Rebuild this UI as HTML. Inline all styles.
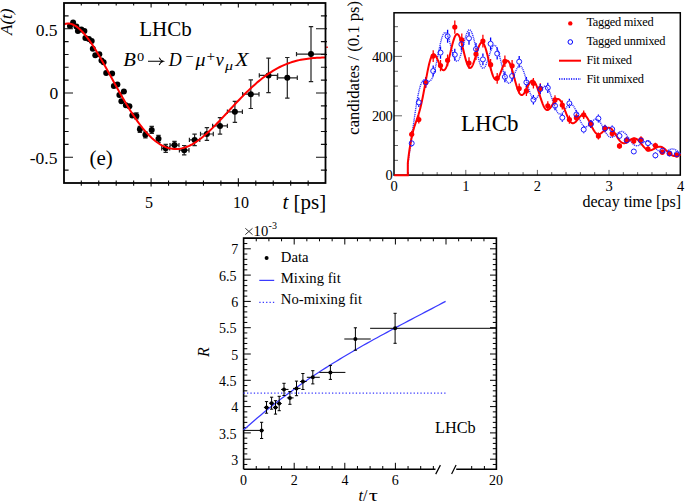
<!DOCTYPE html>
<html><head><meta charset="utf-8"><style>
html,body{margin:0;padding:0;background:#fff;}
svg{display:block;}
text{font-family:"Liberation Serif",serif;}
</style></head><body>
<svg width="685" height="503" viewBox="0 0 685 503">
<rect width="685" height="503" fill="#fff"/>
<g id="c1">
<path d="M136.4,112.9V118.9M134.20000000000002,112.9h4.4M134.20000000000002,118.9h4.4" stroke="#222" stroke-width="1.2" fill="none"/>
<path d="M139.9,126.30000000000001V132.3M137.70000000000002,126.30000000000001h4.4M137.70000000000002,132.3h4.4" stroke="#222" stroke-width="1.2" fill="none"/>
<path d="M145.4,131.8V137.8M143.20000000000002,131.8h4.4M143.20000000000002,137.8h4.4" stroke="#222" stroke-width="1.2" fill="none"/>
<path d="M151.7,126.4V133.4M149.5,126.4h4.4M149.5,133.4h4.4" stroke="#222" stroke-width="1.2" fill="none"/>
<path d="M158.5,135.3V142.3M156.3,135.3h4.4M156.3,142.3h4.4" stroke="#222" stroke-width="1.2" fill="none"/>
<path d="M165.7,144.3V152.3M163.5,144.3h4.4M163.5,152.3h4.4" stroke="#222" stroke-width="1.2" fill="none"/>
<path d="M161.7,148.3H169.7M161.7,146.10000000000002v4.4M169.7,146.10000000000002v4.4" stroke="#222" stroke-width="1.2" fill="none"/>
<path d="M174.5,141.29999999999998V148.9M172.3,141.29999999999998h4.4M172.3,148.9h4.4" stroke="#222" stroke-width="1.2" fill="none"/>
<path d="M170.0,145.1H179.0M170.0,142.9v4.4M179.0,142.9v4.4" stroke="#222" stroke-width="1.2" fill="none"/>
<path d="M184.2,145.5V154.89999999999998M182.0,145.5h4.4M182.0,154.89999999999998h4.4" stroke="#222" stroke-width="1.2" fill="none"/>
<path d="M179.39999999999998,150.2H189.0M179.39999999999998,148.0v4.4M189.0,148.0v4.4" stroke="#222" stroke-width="1.2" fill="none"/>
<path d="M194.6,134.20000000000002V145.6M192.4,134.20000000000002h4.4M192.4,145.6h4.4" stroke="#222" stroke-width="1.2" fill="none"/>
<path d="M189.4,139.9H199.79999999999998M189.4,137.70000000000002v4.4M199.79999999999998,137.70000000000002v4.4" stroke="#222" stroke-width="1.2" fill="none"/>
<path d="M206.9,127.6V140.4M204.70000000000002,127.6h4.4M204.70000000000002,140.4h4.4" stroke="#222" stroke-width="1.2" fill="none"/>
<path d="M200.5,134H213.3M200.5,131.8v4.4M213.3,131.8v4.4" stroke="#222" stroke-width="1.2" fill="none"/>
<path d="M220,117.60000000000001V134.20000000000002M217.8,117.60000000000001h4.4M217.8,134.20000000000002h4.4" stroke="#222" stroke-width="1.2" fill="none"/>
<path d="M212.6,125.9H227.4M212.6,123.7v4.4M227.4,123.7v4.4" stroke="#222" stroke-width="1.2" fill="none"/>
<path d="M234.9,101.3V122.3M232.70000000000002,101.3h4.4M232.70000000000002,122.3h4.4" stroke="#222" stroke-width="1.2" fill="none"/>
<path d="M227.4,111.8H242.4M227.4,109.6v4.4M242.4,109.6v4.4" stroke="#222" stroke-width="1.2" fill="none"/>
<path d="M250.8,79.9V108.5M248.60000000000002,79.9h4.4M248.60000000000002,108.5h4.4" stroke="#222" stroke-width="1.2" fill="none"/>
<path d="M242.60000000000002,94.2H259.0M242.60000000000002,92.0v4.4M259.0,92.0v4.4" stroke="#222" stroke-width="1.2" fill="none"/>
<path d="M268.5,58.10000000000001V92.7M266.3,58.10000000000001h4.4M266.3,92.7h4.4" stroke="#222" stroke-width="1.2" fill="none"/>
<path d="M259.3,75.4H277.7M259.3,73.2v4.4M277.7,73.2v4.4" stroke="#222" stroke-width="1.2" fill="none"/>
<path d="M287.3,57.5V98.1M285.1,57.5h4.4M285.1,98.1h4.4" stroke="#222" stroke-width="1.2" fill="none"/>
<path d="M277.3,77.8H297.3M277.3,75.6v4.4M297.3,75.6v4.4" stroke="#222" stroke-width="1.2" fill="none"/>
<path d="M311,26.6V81.6M308.8,26.6h4.4M308.8,81.6h4.4" stroke="#222" stroke-width="1.2" fill="none"/>
<path d="M296.5,54.1H325.5M296.5,51.9v4.4M325.5,51.9v4.4" stroke="#222" stroke-width="1.2" fill="none"/>
<circle cx="70" cy="25.9" r="3" fill="#000"/>
<circle cx="73.1" cy="22.5" r="3" fill="#000"/>
<circle cx="76.4" cy="26.4" r="3" fill="#000"/>
<circle cx="77.9" cy="30.9" r="3" fill="#000"/>
<circle cx="81.4" cy="29.4" r="3" fill="#000"/>
<circle cx="84.4" cy="30.9" r="3" fill="#000"/>
<circle cx="85.4" cy="37.9" r="3" fill="#000"/>
<circle cx="88.9" cy="38.9" r="3" fill="#000"/>
<circle cx="91.7" cy="41.1" r="3" fill="#000"/>
<circle cx="92.8" cy="48.8" r="3" fill="#000"/>
<circle cx="95.3" cy="55.3" r="3" fill="#000"/>
<circle cx="99.3" cy="54.3" r="3" fill="#000"/>
<circle cx="101.5" cy="60.5" r="3" fill="#000"/>
<circle cx="103.6" cy="62.3" r="3" fill="#000"/>
<circle cx="106.2" cy="73" r="3" fill="#000"/>
<circle cx="112.1" cy="73.5" r="3" fill="#000"/>
<circle cx="113.9" cy="85.9" r="3" fill="#000"/>
<circle cx="117.4" cy="84.4" r="3" fill="#000"/>
<circle cx="119.4" cy="94.9" r="3" fill="#000"/>
<circle cx="123.9" cy="91.4" r="3" fill="#000"/>
<circle cx="121.4" cy="101.3" r="3" fill="#000"/>
<circle cx="125.9" cy="105.3" r="3" fill="#000"/>
<circle cx="129.4" cy="106.3" r="3" fill="#000"/>
<circle cx="132.3" cy="115.5" r="3" fill="#000"/>
<circle cx="136.4" cy="115.9" r="3" fill="#000"/>
<circle cx="139.9" cy="129.3" r="3" fill="#000"/>
<circle cx="145.4" cy="134.8" r="3" fill="#000"/>
<circle cx="151.7" cy="129.9" r="3" fill="#000"/>
<circle cx="158.5" cy="138.8" r="3" fill="#000"/>
<circle cx="165.7" cy="148.3" r="3" fill="#000"/>
<circle cx="174.5" cy="145.1" r="3" fill="#000"/>
<circle cx="184.2" cy="150.2" r="3" fill="#000"/>
<circle cx="194.6" cy="139.9" r="3" fill="#000"/>
<circle cx="206.9" cy="134" r="3" fill="#000"/>
<circle cx="220" cy="125.9" r="3" fill="#000"/>
<circle cx="234.9" cy="111.8" r="3" fill="#000"/>
<circle cx="250.8" cy="94.2" r="3" fill="#000"/>
<circle cx="268.5" cy="75.4" r="3" fill="#000"/>
<circle cx="287.3" cy="77.8" r="3" fill="#000"/>
<circle cx="311" cy="54.1" r="3" fill="#000"/>
<path d="M64.00,24.27 L65.76,23.73 L67.51,23.49 L69.27,23.55 L71.02,23.88 L72.78,24.48 L74.53,25.32 L76.29,26.39 L78.04,27.69 L79.80,29.19 L81.55,30.88 L83.31,32.75 L85.06,34.79 L86.82,36.99 L88.57,39.32 L90.33,41.79 L92.08,44.38 L93.84,47.07 L95.59,49.86 L97.35,52.73 L99.10,55.68 L100.86,58.69 L102.61,61.76 L104.37,64.87 L106.12,68.02 L107.88,71.19 L109.63,74.38 L111.39,77.58 L113.14,80.78 L114.90,83.97 L116.65,87.15 L118.41,90.30 L120.16,93.43 L121.92,96.52 L123.67,99.56 L125.43,102.55 L127.18,105.49 L128.94,108.36 L130.69,111.17 L132.45,113.91 L134.20,116.57 L135.96,119.14 L137.71,121.63 L139.47,124.03 L141.22,126.33 L142.98,128.53 L144.73,130.64 L146.49,132.63 L148.24,134.52 L150.00,136.30 L151.75,137.97 L153.51,139.53 L155.26,140.96 L157.02,142.28 L158.77,143.49 L160.53,144.57 L162.28,145.54 L164.04,146.38 L165.79,147.10 L167.55,147.71 L169.30,148.20 L171.06,148.56 L172.81,148.82 L174.57,148.95 L176.32,148.97 L178.08,148.88 L179.83,148.67 L181.59,148.36 L183.34,147.94 L185.10,147.42 L186.85,146.79 L188.61,146.06 L190.36,145.23 L192.12,144.32 L193.87,143.31 L195.63,142.21 L197.38,141.03 L199.14,139.77 L200.89,138.44 L202.65,137.04 L204.40,135.56 L206.16,134.03 L207.91,132.44 L209.67,130.80 L211.42,129.11 L213.18,127.38 L214.93,125.61 L216.69,123.81 L218.44,121.98 L220.20,120.13 L221.95,118.27 L223.71,116.38 L225.46,114.49 L227.22,112.59 L228.97,110.69 L230.73,108.79 L232.48,106.90 L234.24,105.02 L235.99,103.14 L237.75,101.29 L239.50,99.45 L241.26,97.63 L243.01,95.83 L244.77,94.07 L246.52,92.33 L248.28,90.62 L250.03,88.94 L251.79,87.30 L253.54,85.70 L255.30,84.13 L257.05,82.61 L258.81,81.13 L260.56,79.69 L262.32,78.30 L264.07,76.95 L265.83,75.65 L267.58,74.40 L269.34,73.19 L271.09,72.04 L272.85,70.93 L274.60,69.87 L276.36,68.87 L278.11,67.91 L279.87,67.00 L281.62,66.14 L283.38,65.33 L285.13,64.57 L286.89,63.86 L288.64,63.20 L290.40,62.58 L292.15,62.00 L293.91,61.48 L295.66,60.99 L297.42,60.55 L299.17,60.14 L300.93,59.78 L302.68,59.45 L304.44,59.15 L306.19,58.89 L307.95,58.66 L309.70,58.45 L311.46,58.28 L313.21,58.12 L314.97,57.99 L316.72,57.87 L318.48,57.76 L320.23,57.67 L321.99,57.59 L323.74,57.51 L325.50,57.43" stroke="#f00" stroke-width="2" fill="none"/>
<path d="M326.3,47.2h1.5" stroke="#f00" stroke-width="1.4"/>
<path d="M81.30,185.8V180.5M81.30,3V5.5M98.75,185.8V180.5M98.75,3V5.5M116.20,185.8V180.5M116.20,3V5.5M133.65,185.8V180.5M133.65,3V5.5M151.10,186.6V178.2M151.10,3V7.6M168.55,185.8V180.5M168.55,3V5.5M186.00,185.8V180.5M186.00,3V5.5M203.45,185.8V180.5M203.45,3V5.5M220.90,185.8V180.5M220.90,3V5.5M238.35,186.6V178.2M238.35,3V7.6M255.80,185.8V180.5M255.80,3V5.5M273.25,185.8V180.5M273.25,3V5.5M290.70,185.8V180.5M290.70,3V5.5M308.15,185.8V180.5M308.15,3V5.5M64,170.10H68.6M327.0,170.10H320.9M64,157.25H73M327.0,157.25H316.0M64,144.40H68.6M327.0,144.40H320.9M64,131.55H68.6M327.0,131.55H320.9M64,118.70H68.6M327.0,118.70H320.9M64,105.85H68.6M327.0,105.85H320.9M64,93.00H73M327.0,93.00H316.0M64,80.15H68.6M327.0,80.15H320.9M64,67.30H68.6M327.0,67.30H320.9M64,54.45H68.6M327.0,54.45H320.9M64,41.60H68.6M327.0,41.60H320.9M64,28.75H73M327.0,28.75H316.0M64,15.90H68.6M327.0,15.90H320.9" stroke="#111" stroke-width="1.1" fill="none"/>
<rect x="64" y="3" width="261.5" height="180" stroke="#000" stroke-width="1.8" fill="none"/>
<g font-family="Liberation Serif, serif" font-size="17.5" fill="#000" text-anchor="end">
<text x="57.5" y="35.8">0.5</text><text x="58.3" y="99.3">0</text><text x="57.5" y="163.8">-0.5</text>
</g>
<g font-family="Liberation Serif, serif" font-size="16" fill="#000" text-anchor="middle"><text x="149" y="208">5</text><text x="241" y="208">10</text></g>
<text font-family="Liberation Serif, serif" font-size="21" x="282.5" y="209"><tspan font-style="italic">t</tspan> [ps]</text>
<text font-family="Liberation Serif, serif" font-size="17" font-style="italic" transform="translate(12.4,35) rotate(-90)">A(t)</text>
<text font-family="Liberation Serif, serif" font-size="21" x="139.2" y="35.7">LHCb</text>
<text font-family="Liberation Serif, serif" font-size="21" x="89.5" y="164.5">(e)</text>
<g font-family="Liberation Serif, serif" font-size="18" font-style="italic"><text x="123.2" y="65.6" textLength="12.6" lengthAdjust="spacingAndGlyphs">B</text><text x="136.9" y="60.5" font-size="12.3" font-style="normal" textLength="7.2" lengthAdjust="spacingAndGlyphs">0</text><text x="168.8" y="65.6">D</text><text x="185.3" y="61.4" font-size="14.5" font-style="normal" textLength="8.2" lengthAdjust="spacingAndGlyphs">−</text><text x="195.4" y="65.6" textLength="10" lengthAdjust="spacingAndGlyphs">μ</text><text x="206.4" y="61.4" font-size="14.5" font-style="normal" textLength="8.6" lengthAdjust="spacingAndGlyphs">+</text><text x="215.8" y="65.6">ν</text><text x="225" y="69.8" font-size="13" textLength="8" lengthAdjust="spacingAndGlyphs">μ</text><text x="235.3" y="65.6" textLength="13.2" lengthAdjust="spacingAndGlyphs">X</text></g>
<path d="M148,61.3H163M159.2,57.6Q160.2,60.4,163.3,61.3Q160.2,62.2,159.2,65" stroke="#000" stroke-width="1.05" fill="none"/>
</g>
<g id="c2">
<path d="M408.52,175.1V172.1M422.84,175.1V172.1M437.16,175.1V172.1M451.48,175.1V172.1M465.80,175.1V169.9M480.12,175.1V172.1M494.44,175.1V172.1M508.76,175.1V172.1M523.08,175.1V172.1M537.40,175.1V169.9M551.72,175.1V172.1M566.04,175.1V172.1M580.36,175.1V172.1M594.68,175.1V172.1M609.00,175.1V169.9M623.32,175.1V172.1M637.64,175.1V172.1M651.96,175.1V172.1M666.28,175.1V172.1M394,160.35H398M394,145.50H398M394,130.65H398M394,115.80H402M394,100.95H398M394,86.10H398M394,71.25H398M394,56.40H402M394,41.55H398M394,26.70H398" stroke="#555" stroke-width="0.9" fill="none"/>
<rect x="394" y="12.8" width="286.29999999999995" height="162.29999999999998" stroke="#000" stroke-width="1.5" fill="none"/>
<path d="M411.7,130.81V137.79M418.8,115.43V123.57M425.6,77.56V88.04M433.2,50.15V62.05M440.5,59.89V71.31M447.6,54.46V66.14M454.8,20.47V33.73M461.8,33.46V46.14M469,57.23V68.77M476,48.00V60.00M482.9,34.79V47.41M490.6,58.97V70.43M497.2,72.94V83.66M504.9,55.48V67.12M512.1,60.10V71.50M519.2,83.53V93.67M526.4,85.90V95.90M533.4,78.08V88.52M540.3,83.22V93.38M547.8,101.26V110.34M555,95.17V104.63M562.3,100.43V109.57M569.4,115.54V123.66M576.4,113.57V121.83M583.7,110.56V119.04M590.9,120.20V128.00M598.4,132.59V139.41M605,124.88V132.32M612.2,129.88V136.92M619.5,142.95V148.85M626.7,136.87V143.33M633.8,137.81V144.19M641,136.35V142.85M648,146.21V151.79M655.4,142.64V148.56M662.3,149.59V154.81M669.5,150.96V156.04M676.8,152.55V157.45" stroke="#f00" stroke-width="1.3" fill="none"/>
<path d="M411.7,140.22V140.50M411.7,146.10V146.38M418.8,97.75V99.60M418.8,105.20V107.05M425.8,76.94V79.40M425.8,85.00V87.46M433.2,65.44V68.20M433.2,73.80V76.56M440.5,46.57V49.80M440.5,55.40V58.63M447.6,29.77V33.40M447.6,39.00V42.63M454.8,48.72V51.90M454.8,57.50V60.68M461.4,37.96V41.40M461.4,47.00V50.44M469,31.92V35.50M469,41.10V44.68M476,42.98V46.30M476,51.90V55.22M482.9,53.54V56.60M482.9,62.20V65.26M490.6,37.55V41.00M490.6,46.60V50.05M497.2,47.59V50.80M497.2,56.40V59.61M504.9,71.50V74.10M504.9,79.70V82.30M512.1,70.57V73.20M512.1,78.80V81.43M519.2,55.89V58.90M519.2,64.50V67.51M526.4,77.05V79.50M526.4,85.10V87.55M533.4,95.07V97.00M533.4,102.60V104.53M540.3,84.04V86.30M540.3,91.90V94.16M547.8,82.71V85.00M547.8,90.60V92.89M555,101.26V103.00M555,108.60V110.34M562.3,113.57V114.90M562.3,120.50V121.83M569.4,98.78V100.60M569.4,106.20V108.02M576.4,110.25V111.70M576.4,117.30V118.75M583.7,125.92V126.80M583.7,132.40V133.28M590.9,120.10V121.20M590.9,126.80V127.90M598.4,114.40V115.70M598.4,121.30V122.60M605,124.67V125.60M605,131.20V132.13M612.2,125.50V126.40M612.2,132.00V132.90M619.5,132.48V133.10M619.5,138.70V139.32M626.7,137.08V137.50M626.7,143.10V143.52M633.8,148.85V148.70M633.8,154.30V154.15M641,137.39V137.80M641,143.40V143.81M648,140.01V140.30M648,145.90V146.19M655.4,152.98V152.60M655.4,158.20V157.82M662.3,148.11V148.00M662.3,153.60V153.49M669.5,150.96V150.70M669.5,156.30V156.04M676.8,151.70V151.40M676.8,157.00V156.70" stroke="#00f" stroke-width="1.3" fill="none"/>
<path d="M407.80,175.20 L407.81,165.24 L407.82,165.17 L408.05,163.21 L408.29,161.38 L408.53,159.61 L408.77,157.88 L409.01,156.16 L409.25,154.45 L409.49,152.76 L409.73,151.07 L409.97,149.39 L410.20,147.70 L410.44,146.01 L410.68,144.33 L410.92,142.64 L411.16,140.94 L411.40,139.25 L411.64,137.55 L411.88,135.85 L412.11,134.15 L412.35,132.44 L412.59,130.73 L412.83,129.03 L413.07,127.33 L413.31,125.63 L413.55,123.93 L413.79,122.24 L414.03,120.56 L414.26,118.89 L414.50,117.23 L414.74,115.59 L414.98,113.96 L415.22,112.35 L415.46,110.76 L415.70,109.19 L415.94,107.65 L416.18,106.13 L416.41,104.64 L416.65,103.18 L416.89,101.76 L417.13,100.37 L417.37,99.02 L417.61,97.70 L417.85,96.43 L418.09,95.20 L418.33,94.01 L418.56,92.86 L418.80,91.76 L419.04,90.71 L419.28,89.71 L419.52,88.76 L419.76,87.85 L420.00,87.00 L420.24,86.20 L420.48,85.44 L420.71,84.74 L420.95,84.09 L421.19,83.49 L421.43,82.94 L421.67,82.44 L421.91,81.99 L422.15,81.58 L422.39,81.22 L422.63,80.91 L422.86,80.64 L423.10,80.41 L423.34,80.22 L423.58,80.07 L423.82,79.96 L424.06,79.88 L424.30,79.83 L424.54,79.81 L424.77,79.81 L425.01,79.84 L425.25,79.89 L425.49,79.96 L425.73,80.05 L425.97,80.15 L426.21,80.25 L426.45,80.37 L426.69,80.48 L426.92,80.60 L427.16,80.72 L427.40,80.83 L427.64,80.93 L427.88,81.03 L428.12,81.10 L428.36,81.17 L428.60,81.21 L428.84,81.23 L429.07,81.23 L429.31,81.20 L429.55,81.14 L429.79,81.05 L430.03,80.92 L430.27,80.77 L430.51,80.57 L430.75,80.34 L430.99,80.07 L431.22,79.75 L431.46,79.40 L431.70,79.00 L431.94,78.56 L432.18,78.08 L432.42,77.55 L432.66,76.97 L432.90,76.36 L433.14,75.70 L433.37,74.99 L433.61,74.25 L433.85,73.46 L434.09,72.63 L434.33,71.77 L434.57,70.86 L434.81,69.92 L435.05,68.95 L435.28,67.94 L435.52,66.90 L435.76,65.83 L436.00,64.74 L436.24,63.62 L436.48,62.49 L436.72,61.33 L436.96,60.17 L437.20,58.98 L437.43,57.79 L437.67,56.60 L437.91,55.40 L438.15,54.20 L438.39,53.00 L438.63,51.82 L438.87,50.64 L439.11,49.47 L439.35,48.32 L439.58,47.19 L439.82,46.08 L440.06,45.00 L440.30,43.95 L440.54,42.93 L440.78,41.94 L441.02,40.99 L441.26,40.08 L441.50,39.21 L441.73,38.39 L441.97,37.62 L442.21,36.89 L442.45,36.21 L442.69,35.59 L442.93,35.02 L443.17,34.51 L443.41,34.06 L443.65,33.66 L443.88,33.32 L444.12,33.04 L444.36,32.83 L444.60,32.67 L444.84,32.57 L445.08,32.54 L445.32,32.56 L445.56,32.64 L445.79,32.78 L446.03,32.98 L446.27,33.24 L446.51,33.55 L446.75,33.91 L446.99,34.33 L447.23,34.79 L447.47,35.31 L447.71,35.87 L447.94,36.47 L448.18,37.11 L448.42,37.80 L448.66,38.51 L448.90,39.26 L449.14,40.04 L449.38,40.85 L449.62,41.68 L449.86,42.52 L450.09,43.39 L450.33,44.27 L450.57,45.15 L450.81,46.05 L451.05,46.94 L451.29,47.84 L451.53,48.73 L451.77,49.61 L452.01,50.48 L452.24,51.34 L452.48,52.18 L452.72,53.00 L452.96,53.80 L453.20,54.56 L453.44,55.30 L453.68,56.00 L453.92,56.67 L454.16,57.30 L454.39,57.89 L454.63,58.44 L454.87,58.94 L455.11,59.39 L455.35,59.80 L455.59,60.16 L455.83,60.46 L456.07,60.71 L456.31,60.91 L456.54,61.05 L456.78,61.13 L457.02,61.16 L457.26,61.14 L457.50,61.06 L457.74,60.92 L457.98,60.73 L458.22,60.48 L458.45,60.18 L458.69,59.82 L458.93,59.42 L459.17,58.96 L459.41,58.46 L459.65,57.91 L459.89,57.31 L460.13,56.67 L460.37,55.99 L460.60,55.27 L460.84,54.52 L461.08,53.74 L461.32,52.92 L461.56,52.08 L461.80,51.21 L462.04,50.32 L462.28,49.42 L462.52,48.50 L462.75,47.57 L462.99,46.63 L463.23,45.69 L463.47,44.75 L463.71,43.81 L463.95,42.87 L464.19,41.95 L464.43,41.03 L464.67,40.14 L464.90,39.26 L465.14,38.40 L465.38,37.57 L465.62,36.77 L465.86,36.01 L466.10,35.27 L466.34,34.58 L466.58,33.92 L466.82,33.30 L467.05,32.73 L467.29,32.21 L467.53,31.74 L467.77,31.31 L468.01,30.94 L468.25,30.62 L468.49,30.36 L468.73,30.15 L468.96,30.00 L469.20,29.91 L469.44,29.88 L469.68,29.90 L469.92,29.98 L470.16,30.12 L470.40,30.32 L470.64,30.58 L470.88,30.90 L471.11,31.27 L471.35,31.69 L471.59,32.17 L471.83,32.71 L472.07,33.29 L472.31,33.92 L472.55,34.60 L472.79,35.32 L473.03,36.09 L473.26,36.90 L473.50,37.74 L473.74,38.62 L473.98,39.53 L474.22,40.47 L474.46,41.44 L474.70,42.43 L474.94,43.44 L475.18,44.47 L475.41,45.51 L475.65,46.56 L475.89,47.62 L476.13,48.68 L476.37,49.74 L476.61,50.80 L476.85,51.86 L477.09,52.90 L477.33,53.94 L477.56,54.95 L477.80,55.95 L478.04,56.92 L478.28,57.87 L478.52,58.80 L478.76,59.69 L479.00,60.55 L479.24,61.37 L479.48,62.16 L479.71,62.90 L479.95,63.60 L480.19,64.26 L480.43,64.87 L480.67,65.44 L480.91,65.95 L481.15,66.42 L481.39,66.83 L481.62,67.20 L481.86,67.50 L482.10,67.76 L482.34,67.96 L482.58,68.11 L482.82,68.20 L483.06,68.24 L483.30,68.23 L483.54,68.16 L483.77,68.05 L484.01,67.88 L484.25,67.66 L484.49,67.39 L484.73,67.08 L484.97,66.72 L485.21,66.32 L485.45,65.88 L485.69,65.40 L485.92,64.88 L486.16,64.33 L486.40,63.75 L486.64,63.13 L486.88,62.49 L487.12,61.83 L487.36,61.14 L487.60,60.44 L487.84,59.72 L488.07,58.99 L488.31,58.25 L488.55,57.51 L488.79,56.76 L489.03,56.01 L489.27,55.27 L489.51,54.53 L489.75,53.81 L489.99,53.09 L490.22,52.39 L490.46,51.71 L490.70,51.06 L490.94,50.42 L491.18,49.81 L491.42,49.24 L491.66,48.69 L491.90,48.18 L492.13,47.70 L492.37,47.26 L492.61,46.87 L492.85,46.51 L493.09,46.20 L493.33,45.94 L493.57,45.72 L493.81,45.55 L494.05,45.43 L494.28,45.36 L494.52,45.34 L494.76,45.37 L495.00,45.45 L495.24,45.59 L495.48,45.77 L495.72,46.01 L495.96,46.29 L496.20,46.63 L496.43,47.02 L496.67,47.45 L496.91,47.93 L497.15,48.46 L497.39,49.04 L497.63,49.65 L497.87,50.31 L498.11,51.01 L498.35,51.74 L498.58,52.51 L498.82,53.32 L499.06,54.15 L499.30,55.02 L499.54,55.91 L499.78,56.82 L500.02,57.76 L500.26,58.71 L500.50,59.68 L500.73,60.66 L500.97,61.65 L501.21,62.65 L501.45,63.65 L501.69,64.65 L501.93,65.65 L502.17,66.65 L502.41,67.64 L502.65,68.62 L502.88,69.58 L503.12,70.53 L503.36,71.46 L503.60,72.37 L503.84,73.25 L504.08,74.11 L504.32,74.94 L504.56,75.74 L504.79,76.51 L505.03,77.24 L505.27,77.94 L505.51,78.60 L505.75,79.22 L505.99,79.80 L506.23,80.33 L506.47,80.82 L506.71,81.27 L506.94,81.67 L507.18,82.03 L507.42,82.33 L507.66,82.60 L507.90,82.81 L508.14,82.98 L508.38,83.10 L508.62,83.18 L508.86,83.21 L509.09,83.19 L509.33,83.13 L509.57,83.02 L509.81,82.88 L510.05,82.69 L510.29,82.46 L510.53,82.20 L510.77,81.89 L511.01,81.55 L511.24,81.18 L511.48,80.78 L511.72,80.35 L511.96,79.89 L512.20,79.41 L512.44,78.91 L512.68,78.39 L512.92,77.84 L513.16,77.29 L513.39,76.72 L513.63,76.14 L513.87,75.56 L514.11,74.97 L514.35,74.38 L514.59,73.80 L514.83,73.21 L515.07,72.63 L515.30,72.06 L515.54,71.51 L515.78,70.96 L516.02,70.44 L516.26,69.93 L516.50,69.44 L516.74,68.98 L516.98,68.54 L517.22,68.13 L517.45,67.75 L517.69,67.40 L517.93,67.08 L518.17,66.80 L518.41,66.55 L518.65,66.34 L518.89,66.17 L519.13,66.04 L519.37,65.95 L519.60,65.90 L519.84,65.89 L520.08,65.93 L520.32,66.01 L520.56,66.13 L520.80,66.29 L521.04,66.50 L521.28,66.74 L521.52,67.04 L521.75,67.37 L521.99,67.74 L522.23,68.15 L522.47,68.61 L522.71,69.10 L522.95,69.62 L523.19,70.19 L523.43,70.78 L523.67,71.41 L523.90,72.07 L524.14,72.76 L524.38,73.47 L524.62,74.21 L524.86,74.97 L525.10,75.76 L525.34,76.56 L525.58,77.38 L525.82,78.21 L526.05,79.05 L526.29,79.90 L526.53,80.76 L526.77,81.63 L527.01,82.49 L527.25,83.36 L527.49,84.22 L527.73,85.08 L527.96,85.93 L528.20,86.77 L528.44,87.60 L528.68,88.41 L528.92,89.21 L529.16,89.99 L529.40,90.75 L529.64,91.48 L529.88,92.20 L530.11,92.88 L530.35,93.54 L530.59,94.16 L530.83,94.76 L531.07,95.33 L531.31,95.86 L531.55,96.35 L531.79,96.81 L532.03,97.24 L532.26,97.62 L532.50,97.97 L532.74,98.28 L532.98,98.55 L533.22,98.78 L533.46,98.98 L533.70,99.13 L533.94,99.25 L534.18,99.32 L534.41,99.36 L534.65,99.36 L534.89,99.33 L535.13,99.26 L535.37,99.15 L535.61,99.01 L535.85,98.84 L536.09,98.64 L536.33,98.40 L536.56,98.14 L536.80,97.85 L537.04,97.54 L537.28,97.20 L537.52,96.85 L537.76,96.47 L538.00,96.07 L538.24,95.66 L538.47,95.24 L538.71,94.80 L538.95,94.35 L539.19,93.90 L539.43,93.44 L539.67,92.98 L539.91,92.52 L540.15,92.06 L540.39,91.61 L540.62,91.16 L540.86,90.71 L541.10,90.28 L541.34,89.86 L541.58,89.45 L541.82,89.06 L542.06,88.69 L542.30,88.34 L542.54,88.00 L542.77,87.69 L543.01,87.41 L543.25,87.15 L543.49,86.92 L543.73,86.71 L543.97,86.54 L544.21,86.40 L544.45,86.28 L544.69,86.20 L544.92,86.16 L545.16,86.15 L545.40,86.17 L545.64,86.22 L545.88,86.31 L546.12,86.44 L546.36,86.60 L546.60,86.79 L546.84,87.02 L547.07,87.28 L547.31,87.58 L547.55,87.91 L547.79,88.27 L548.03,88.66 L548.27,89.09 L548.51,89.54 L548.75,90.02 L548.98,90.53 L549.22,91.06 L549.46,91.62 L549.70,92.20 L549.94,92.80 L550.18,93.42 L550.42,94.06 L550.66,94.71 L550.90,95.38 L551.13,96.07 L551.37,96.76 L551.61,97.46 L551.85,98.17 L552.09,98.88 L552.33,99.59 L552.57,100.31 L552.81,101.03 L553.05,101.74 L553.28,102.45 L553.52,103.15 L553.76,103.84 L554.00,104.52 L554.24,105.19 L554.48,105.85 L554.72,106.49 L554.96,107.11 L555.20,107.71 L555.43,108.30 L555.67,108.86 L555.91,109.40 L556.15,109.91 L556.39,110.40 L556.63,110.86 L556.87,111.30 L557.11,111.70 L557.35,112.08 L557.58,112.43 L557.82,112.74 L558.06,113.03 L558.30,113.29 L558.54,113.51 L558.78,113.70 L559.02,113.86 L559.26,113.99 L559.50,114.09 L559.73,114.16 L559.97,114.19 L560.21,114.20 L560.45,114.18 L560.69,114.13 L560.93,114.05 L561.17,113.94 L561.41,113.81 L561.64,113.65 L561.88,113.47 L562.12,113.27 L562.36,113.04 L562.60,112.80 L562.84,112.53 L563.08,112.25 L563.32,111.96 L563.56,111.65 L563.79,111.33 L564.03,111.00 L564.27,110.65 L564.51,110.31 L564.75,109.95 L564.99,109.60 L565.23,109.24 L565.47,108.88 L565.71,108.52 L565.94,108.17 L566.18,107.82 L566.42,107.48 L566.66,107.14 L566.90,106.82 L567.14,106.51 L567.38,106.21 L567.62,105.92 L567.86,105.65 L568.09,105.40 L568.33,105.17 L568.57,104.96 L568.81,104.76 L569.05,104.59 L569.29,104.45 L569.53,104.32 L569.77,104.22 L570.01,104.15 L570.24,104.10 L570.48,104.08 L570.72,104.08 L570.96,104.12 L571.20,104.18 L571.44,104.27 L571.68,104.38 L571.92,104.52 L572.15,104.70 L572.39,104.89 L572.63,105.12 L572.87,105.37 L573.11,105.65 L573.35,105.95 L573.59,106.28 L573.83,106.63 L574.07,107.00 L574.30,107.40 L574.54,107.82 L574.78,108.26 L575.02,108.71 L575.26,109.19 L575.50,109.68 L575.74,110.19 L575.98,110.70 L576.22,111.24 L576.45,111.78 L576.69,112.33 L576.93,112.89 L577.17,113.46 L577.41,114.03 L577.65,114.61 L577.89,115.19 L578.13,115.76 L578.37,116.34 L578.60,116.91 L578.84,117.48 L579.08,118.05 L579.32,118.60 L579.56,119.15 L579.80,119.69 L580.04,120.21 L580.28,120.72 L580.52,121.22 L580.75,121.71 L580.99,122.17 L581.23,122.62 L581.47,123.05 L581.71,123.46 L581.95,123.85 L582.19,124.22 L582.43,124.57 L582.67,124.89 L582.90,125.20 L583.14,125.47 L583.38,125.73 L583.62,125.95 L583.86,126.16 L584.10,126.34 L584.34,126.49 L584.58,126.62 L584.81,126.72 L585.05,126.80 L585.29,126.85 L585.53,126.88 L585.77,126.89 L586.01,126.87 L586.25,126.84 L586.49,126.77 L586.73,126.69 L586.96,126.59 L587.20,126.47 L587.44,126.32 L587.68,126.17 L587.92,125.99 L588.16,125.80 L588.40,125.60 L588.64,125.38 L588.88,125.15 L589.11,124.91 L589.35,124.66 L589.59,124.40 L589.83,124.13 L590.07,123.86 L590.31,123.59 L590.55,123.31 L590.79,123.03 L591.03,122.76 L591.26,122.48 L591.50,122.21 L591.74,121.94 L591.98,121.68 L592.22,121.42 L592.46,121.17 L592.70,120.93 L592.94,120.70 L593.18,120.49 L593.41,120.28 L593.65,120.09 L593.89,119.92 L594.13,119.76 L594.37,119.62 L594.61,119.49 L594.85,119.38 L595.09,119.29 L595.32,119.23 L595.56,119.18 L595.80,119.15 L596.04,119.14 L596.28,119.16 L596.52,119.19 L596.76,119.25 L597.00,119.33 L597.24,119.43 L597.47,119.55 L597.71,119.69 L597.95,119.86 L598.19,120.05 L598.43,120.25 L598.67,120.48 L598.91,120.73 L599.15,121.00 L599.39,121.28 L599.62,121.59 L599.86,121.91 L600.10,122.24 L600.34,122.60 L600.58,122.96 L600.82,123.34 L601.06,123.74 L601.30,124.14 L601.54,124.56 L601.77,124.98 L602.01,125.42 L602.25,125.86 L602.49,126.30 L602.73,126.75 L602.97,127.21 L603.21,127.67 L603.45,128.12 L603.69,128.58 L603.92,129.04 L604.16,129.49 L604.40,129.94 L604.64,130.39 L604.88,130.83 L605.12,131.26 L605.36,131.68 L605.60,132.10 L605.84,132.50 L606.07,132.90 L606.31,133.28 L606.55,133.64 L606.79,134.00 L607.03,134.34 L607.27,134.66 L607.51,134.97 L607.75,135.26 L607.98,135.53 L608.22,135.78 L608.46,136.02 L608.70,136.24 L608.94,136.43 L609.18,136.61 L609.42,136.77 L609.66,136.91 L609.90,137.03 L610.13,137.13 L610.37,137.21 L610.61,137.27 L610.85,137.32 L611.09,137.34 L611.33,137.34 L611.57,137.33 L611.81,137.30 L612.05,137.25 L612.28,137.19 L612.52,137.11 L612.76,137.01 L613.00,136.90 L613.24,136.78 L613.48,136.64 L613.72,136.49 L613.96,136.33 L614.20,136.16 L614.43,135.98 L614.67,135.80 L614.91,135.60 L615.15,135.40 L615.39,135.20 L615.63,134.99 L615.87,134.78 L616.11,134.56 L616.35,134.35 L616.58,134.14 L616.82,133.92 L617.06,133.71 L617.30,133.51 L617.54,133.31 L617.78,133.11 L618.02,132.92 L618.26,132.74 L618.49,132.56 L618.73,132.40 L618.97,132.25 L619.21,132.10 L619.45,131.97 L619.69,131.85 L619.93,131.75 L620.17,131.65 L620.41,131.58 L620.64,131.51 L620.88,131.47 L621.12,131.43 L621.36,131.42 L621.60,131.42 L621.84,131.44 L622.08,131.47 L622.32,131.52 L622.56,131.59 L622.79,131.67 L623.03,131.78 L623.27,131.89 L623.51,132.03 L623.75,132.18 L623.99,132.35 L624.23,132.53 L624.47,132.73 L624.71,132.95 L624.94,133.17 L625.18,133.42 L625.42,133.67 L625.66,133.94 L625.90,134.22 L626.14,134.51 L626.38,134.81 L626.62,135.12 L626.86,135.44 L627.09,135.77 L627.33,136.11 L627.57,136.45 L627.81,136.80 L628.05,137.15 L628.29,137.50 L628.53,137.86 L628.77,138.22 L629.01,138.58 L629.24,138.94 L629.48,139.30 L629.72,139.65 L629.96,140.00 L630.20,140.35 L630.44,140.70 L630.68,141.03 L630.92,141.37 L631.15,141.69 L631.39,142.01 L631.63,142.31 L631.87,142.61 L632.11,142.89 L632.35,143.17 L632.59,143.43 L632.83,143.68 L633.07,143.92 L633.30,144.15 L633.54,144.36 L633.78,144.56 L634.02,144.74 L634.26,144.91 L634.50,145.06 L634.74,145.20 L634.98,145.32 L635.22,145.43 L635.45,145.52 L635.69,145.60 L635.93,145.66 L636.17,145.71 L636.41,145.74 L636.65,145.75 L636.89,145.76 L637.13,145.75 L637.37,145.72 L637.60,145.68 L637.84,145.63 L638.08,145.57 L638.32,145.49 L638.56,145.41 L638.80,145.31 L639.04,145.21 L639.28,145.09 L639.52,144.97 L639.75,144.84 L639.99,144.70 L640.23,144.55 L640.47,144.40 L640.71,144.25 L640.95,144.09 L641.19,143.93 L641.43,143.77 L641.66,143.60 L641.90,143.44 L642.14,143.27 L642.38,143.11 L642.62,142.95 L642.86,142.79 L643.10,142.64 L643.34,142.49 L643.58,142.34 L643.81,142.21 L644.05,142.07 L644.29,141.95 L644.53,141.83 L644.77,141.73 L645.01,141.63 L645.25,141.54 L645.49,141.46 L645.73,141.39 L645.96,141.34 L646.20,141.29 L646.44,141.26 L646.68,141.24 L646.92,141.23 L647.16,141.23 L647.40,141.25 L647.64,141.28 L647.88,141.33 L648.11,141.38 L648.35,141.45 L648.59,141.54 L648.83,141.63 L649.07,141.74 L649.31,141.86 L649.55,142.00 L649.79,142.15 L650.03,142.30 L650.26,142.47 L650.50,142.65 L650.74,142.85 L650.98,143.05 L651.22,143.26 L651.46,143.48 L651.70,143.71 L651.94,143.94 L652.17,144.19 L652.41,144.44 L652.65,144.70 L652.89,144.96 L653.13,145.23 L653.37,145.50 L653.61,145.77 L653.85,146.05 L654.09,146.33 L654.32,146.61 L654.56,146.89 L654.80,147.17 L655.04,147.44 L655.28,147.72 L655.52,147.99 L655.76,148.26 L656.00,148.53 L656.24,148.79 L656.47,149.05 L656.71,149.30 L656.95,149.54 L657.19,149.78 L657.43,150.01 L657.67,150.23 L657.91,150.45 L658.15,150.65 L658.39,150.84 L658.62,151.03 L658.86,151.20 L659.10,151.36 L659.34,151.51 L659.58,151.65 L659.82,151.78 L660.06,151.90 L660.30,152.01 L660.54,152.10 L660.77,152.18 L661.01,152.25 L661.25,152.31 L661.49,152.36 L661.73,152.39 L661.97,152.42 L662.21,152.43 L662.45,152.43 L662.69,152.42 L662.92,152.40 L663.16,152.37 L663.40,152.33 L663.64,152.28 L663.88,152.22 L664.12,152.15 L664.36,152.08 L664.60,152.00 L664.83,151.91 L665.07,151.81 L665.31,151.71 L665.55,151.60 L665.79,151.49 L666.03,151.37 L666.27,151.26 L666.51,151.13 L666.75,151.01 L666.98,150.89 L667.22,150.76 L667.46,150.63 L667.70,150.51 L667.94,150.38 L668.18,150.26 L668.42,150.14 L668.66,150.02 L668.90,149.91 L669.13,149.80 L669.37,149.69 L669.61,149.59 L669.85,149.50 L670.09,149.41 L670.33,149.33 L670.57,149.26 L670.81,149.19 L671.05,149.14 L671.28,149.09 L671.52,149.04 L671.76,149.01 L672.00,148.99 L672.24,148.98 L672.48,148.97 L672.72,148.98 L672.96,149.00 L673.20,149.02 L673.43,149.06 L673.67,149.11 L673.91,149.17 L674.15,149.23 L674.39,149.31 L674.63,149.40 L674.87,149.49 L675.11,149.60 L675.34,149.72 L675.58,149.84 L675.82,149.97 L676.06,150.12 L676.30,150.27 L676.54,150.42 L676.78,150.59 L677.02,150.76 L677.26,150.94 L677.49,151.13 L677.73,151.32 L677.97,151.51 L678.21,151.71 L678.45,151.91 L678.69,152.12 L678.93,152.33 L679.17,152.55 L679.41,152.76 L679.64,152.98 L679.88,153.19 L680.12,153.41 L680.36,153.63 L680.60,153.84" stroke="#2b2bff" stroke-width="1.4" stroke-dasharray="1.1 0.8" fill="none"/>
<path d="M394.20,175.20 L394.44,175.20 L394.68,175.20 L394.92,175.20 L395.16,175.20 L395.39,175.20 L395.63,175.20 L395.87,175.20 L396.11,175.20 L396.35,175.20 L396.59,175.20 L396.83,175.20 L397.07,175.20 L397.31,175.20 L397.54,175.20 L397.78,175.20 L398.02,175.20 L398.26,175.20 L398.50,175.20 L398.74,175.20 L398.98,175.20 L399.22,175.20 L399.46,175.20 L399.69,175.20 L399.93,175.20 L400.17,175.20 L400.41,175.20 L400.65,175.20 L400.89,175.20 L401.13,175.20 L401.37,175.20 L401.60,175.20 L401.84,175.20 L402.08,175.20 L402.32,175.20 L402.56,175.20 L402.80,175.20 L403.04,175.20 L403.28,175.20 L403.52,175.20 L403.75,175.20 L403.99,175.20 L404.23,175.20 L404.47,175.20 L404.71,175.20 L404.95,175.20 L405.19,175.20 L405.43,175.20 L405.67,175.20 L405.90,175.20 L406.14,175.20 L406.38,175.20 L406.62,175.20 L406.86,175.20 L407.10,175.20 L407.34,175.20 L407.58,175.20 L407.80,175.20 L407.81,163.17 L407.82,163.08 L408.05,160.81 L408.29,158.75 L408.53,156.80 L408.77,154.93 L409.01,153.14 L409.25,151.42 L409.49,149.76 L409.73,148.16 L409.97,146.62 L410.20,145.14 L410.44,143.71 L410.68,142.34 L410.92,141.02 L411.16,139.75 L411.40,138.53 L411.64,137.36 L411.88,136.23 L412.11,135.15 L412.35,134.11 L412.59,133.11 L412.83,132.15 L413.07,131.23 L413.31,130.34 L413.55,129.48 L413.79,128.65 L414.03,127.84 L414.26,127.06 L414.50,126.31 L414.74,125.57 L414.98,124.85 L415.22,124.14 L415.46,123.44 L415.70,122.76 L415.94,122.08 L416.18,121.40 L416.41,120.72 L416.65,120.05 L416.89,119.37 L417.13,118.68 L417.37,117.99 L417.61,117.29 L417.85,116.57 L418.09,115.84 L418.33,115.10 L418.56,114.33 L418.80,113.55 L419.04,112.75 L419.28,111.92 L419.52,111.08 L419.76,110.20 L420.00,109.31 L420.24,108.38 L420.48,107.43 L420.71,106.46 L420.95,105.46 L421.19,104.43 L421.43,103.37 L421.67,102.29 L421.91,101.19 L422.15,100.06 L422.39,98.90 L422.63,97.72 L422.86,96.53 L423.10,95.31 L423.34,94.07 L423.58,92.81 L423.82,91.54 L424.06,90.26 L424.30,88.96 L424.54,87.65 L424.77,86.34 L425.01,85.02 L425.25,83.70 L425.49,82.38 L425.73,81.06 L425.97,79.75 L426.21,78.44 L426.45,77.14 L426.69,75.86 L426.92,74.59 L427.16,73.34 L427.40,72.11 L427.64,70.91 L427.88,69.73 L428.12,68.58 L428.36,67.46 L428.60,66.37 L428.84,65.32 L429.07,64.31 L429.31,63.34 L429.55,62.40 L429.79,61.52 L430.03,60.68 L430.27,59.88 L430.51,59.14 L430.75,58.44 L430.99,57.80 L431.22,57.21 L431.46,56.67 L431.70,56.18 L431.94,55.75 L432.18,55.38 L432.42,55.06 L432.66,54.79 L432.90,54.58 L433.14,54.42 L433.37,54.31 L433.61,54.26 L433.85,54.26 L434.09,54.31 L434.33,54.41 L434.57,54.55 L434.81,54.75 L435.05,54.98 L435.28,55.26 L435.52,55.58 L435.76,55.94 L436.00,56.33 L436.24,56.75 L436.48,57.21 L436.72,57.69 L436.96,58.20 L437.20,58.73 L437.43,59.27 L437.67,59.84 L437.91,60.41 L438.15,61.00 L438.39,61.59 L438.63,62.19 L438.87,62.78 L439.11,63.38 L439.35,63.96 L439.58,64.54 L439.82,65.10 L440.06,65.65 L440.30,66.18 L440.54,66.69 L440.78,67.18 L441.02,67.63 L441.26,68.06 L441.50,68.46 L441.73,68.82 L441.97,69.15 L442.21,69.43 L442.45,69.68 L442.69,69.88 L442.93,70.04 L443.17,70.15 L443.41,70.22 L443.65,70.24 L443.88,70.21 L444.12,70.13 L444.36,70.00 L444.60,69.82 L444.84,69.59 L445.08,69.31 L445.32,68.98 L445.56,68.61 L445.79,68.18 L446.03,67.70 L446.27,67.18 L446.51,66.61 L446.75,65.99 L446.99,65.34 L447.23,64.64 L447.47,63.90 L447.71,63.13 L447.94,62.32 L448.18,61.48 L448.42,60.60 L448.66,59.70 L448.90,58.78 L449.14,57.83 L449.38,56.87 L449.62,55.89 L449.86,54.89 L450.09,53.89 L450.33,52.88 L450.57,51.87 L450.81,50.85 L451.05,49.84 L451.29,48.84 L451.53,47.84 L451.77,46.86 L452.01,45.90 L452.24,44.95 L452.48,44.03 L452.72,43.13 L452.96,42.26 L453.20,41.42 L453.44,40.61 L453.68,39.85 L453.92,39.12 L454.16,38.43 L454.39,37.79 L454.63,37.19 L454.87,36.64 L455.11,36.14 L455.35,35.69 L455.59,35.30 L455.83,34.96 L456.07,34.67 L456.31,34.44 L456.54,34.27 L456.78,34.16 L457.02,34.10 L457.26,34.10 L457.50,34.16 L457.74,34.27 L457.98,34.45 L458.22,34.68 L458.45,34.96 L458.69,35.30 L458.93,35.70 L459.17,36.14 L459.41,36.64 L459.65,37.18 L459.89,37.78 L460.13,38.41 L460.37,39.09 L460.60,39.81 L460.84,40.57 L461.08,41.36 L461.32,42.18 L461.56,43.04 L461.80,43.92 L462.04,44.82 L462.28,45.75 L462.52,46.69 L462.75,47.64 L462.99,48.61 L463.23,49.58 L463.47,50.56 L463.71,51.54 L463.95,52.52 L464.19,53.49 L464.43,54.45 L464.67,55.40 L464.90,56.34 L465.14,57.25 L465.38,58.15 L465.62,59.02 L465.86,59.86 L466.10,60.67 L466.34,61.45 L466.58,62.20 L466.82,62.91 L467.05,63.58 L467.29,64.20 L467.53,64.78 L467.77,65.32 L468.01,65.81 L468.25,66.25 L468.49,66.64 L468.73,66.98 L468.96,67.27 L469.20,67.51 L469.44,67.69 L469.68,67.82 L469.92,67.90 L470.16,67.92 L470.40,67.89 L470.64,67.81 L470.88,67.67 L471.11,67.48 L471.35,67.25 L471.59,66.96 L471.83,66.63 L472.07,66.25 L472.31,65.82 L472.55,65.35 L472.79,64.85 L473.03,64.30 L473.26,63.72 L473.50,63.10 L473.74,62.45 L473.98,61.77 L474.22,61.07 L474.46,60.35 L474.70,59.60 L474.94,58.84 L475.18,58.06 L475.41,57.27 L475.65,56.47 L475.89,55.67 L476.13,54.87 L476.37,54.07 L476.61,53.27 L476.85,52.48 L477.09,51.70 L477.33,50.94 L477.56,50.19 L477.80,49.46 L478.04,48.76 L478.28,48.08 L478.52,47.43 L478.76,46.80 L479.00,46.22 L479.24,45.67 L479.48,45.15 L479.71,44.68 L479.95,44.25 L480.19,43.86 L480.43,43.52 L480.67,43.22 L480.91,42.98 L481.15,42.78 L481.39,42.64 L481.62,42.54 L481.86,42.50 L482.10,42.51 L482.34,42.57 L482.58,42.69 L482.82,42.86 L483.06,43.08 L483.30,43.35 L483.54,43.68 L483.77,44.05 L484.01,44.48 L484.25,44.95 L484.49,45.47 L484.73,46.04 L484.97,46.65 L485.21,47.31 L485.45,48.00 L485.69,48.73 L485.92,49.50 L486.16,50.31 L486.40,51.14 L486.64,52.01 L486.88,52.90 L487.12,53.81 L487.36,54.75 L487.60,55.70 L487.84,56.67 L488.07,57.66 L488.31,58.65 L488.55,59.65 L488.79,60.65 L489.03,61.65 L489.27,62.65 L489.51,63.65 L489.75,64.63 L489.99,65.61 L490.22,66.57 L490.46,67.51 L490.70,68.44 L490.94,69.34 L491.18,70.22 L491.42,71.07 L491.66,71.89 L491.90,72.68 L492.13,73.43 L492.37,74.15 L492.61,74.83 L492.85,75.47 L493.09,76.07 L493.33,76.63 L493.57,77.14 L493.81,77.61 L494.05,78.03 L494.28,78.41 L494.52,78.73 L494.76,79.01 L495.00,79.24 L495.24,79.42 L495.48,79.56 L495.72,79.64 L495.96,79.68 L496.20,79.67 L496.43,79.61 L496.67,79.51 L496.91,79.36 L497.15,79.17 L497.39,78.94 L497.63,78.66 L497.87,78.35 L498.11,78.00 L498.35,77.61 L498.58,77.19 L498.82,76.74 L499.06,76.26 L499.30,75.76 L499.54,75.22 L499.78,74.67 L500.02,74.10 L500.26,73.51 L500.50,72.90 L500.73,72.29 L500.97,71.66 L501.21,71.03 L501.45,70.39 L501.69,69.76 L501.93,69.13 L502.17,68.50 L502.41,67.88 L502.65,67.27 L502.88,66.67 L503.12,66.09 L503.36,65.53 L503.60,64.98 L503.84,64.46 L504.08,63.97 L504.32,63.50 L504.56,63.07 L504.79,62.66 L505.03,62.29 L505.27,61.95 L505.51,61.65 L505.75,61.39 L505.99,61.16 L506.23,60.98 L506.47,60.84 L506.71,60.74 L506.94,60.69 L507.18,60.68 L507.42,60.72 L507.66,60.80 L507.90,60.92 L508.14,61.09 L508.38,61.31 L508.62,61.57 L508.86,61.87 L509.09,62.22 L509.33,62.61 L509.57,63.04 L509.81,63.51 L510.05,64.03 L510.29,64.58 L510.53,65.16 L510.77,65.79 L511.01,66.44 L511.24,67.13 L511.48,67.85 L511.72,68.59 L511.96,69.36 L512.20,70.16 L512.44,70.97 L512.68,71.81 L512.92,72.66 L513.16,73.52 L513.39,74.40 L513.63,75.29 L513.87,76.18 L514.11,77.07 L514.35,77.97 L514.59,78.87 L514.83,79.76 L515.07,80.65 L515.30,81.53 L515.54,82.39 L515.78,83.25 L516.02,84.08 L516.26,84.90 L516.50,85.70 L516.74,86.48 L516.98,87.24 L517.22,87.96 L517.45,88.66 L517.69,89.33 L517.93,89.97 L518.17,90.57 L518.41,91.14 L518.65,91.67 L518.89,92.17 L519.13,92.63 L519.37,93.05 L519.60,93.43 L519.84,93.77 L520.08,94.07 L520.32,94.33 L520.56,94.55 L520.80,94.73 L521.04,94.86 L521.28,94.96 L521.52,95.01 L521.75,95.03 L521.99,95.00 L522.23,94.94 L522.47,94.84 L522.71,94.70 L522.95,94.53 L523.19,94.33 L523.43,94.09 L523.67,93.82 L523.90,93.52 L524.14,93.20 L524.38,92.84 L524.62,92.47 L524.86,92.07 L525.10,91.65 L525.34,91.22 L525.58,90.76 L525.82,90.30 L526.05,89.82 L526.29,89.34 L526.53,88.85 L526.77,88.35 L527.01,87.85 L527.25,87.35 L527.49,86.86 L527.73,86.36 L527.96,85.88 L528.20,85.40 L528.44,84.94 L528.68,84.49 L528.92,84.06 L529.16,83.64 L529.40,83.24 L529.64,82.86 L529.88,82.51 L530.11,82.18 L530.35,81.88 L530.59,81.61 L530.83,81.36 L531.07,81.15 L531.31,80.97 L531.55,80.82 L531.79,80.70 L532.03,80.62 L532.26,80.58 L532.50,80.57 L532.74,80.60 L532.98,80.66 L533.22,80.76 L533.46,80.90 L533.70,81.08 L533.94,81.29 L534.18,81.54 L534.41,81.82 L534.65,82.14 L534.89,82.50 L535.13,82.89 L535.37,83.31 L535.61,83.76 L535.85,84.25 L536.09,84.76 L536.33,85.31 L536.56,85.88 L536.80,86.47 L537.04,87.09 L537.28,87.73 L537.52,88.39 L537.76,89.07 L538.00,89.77 L538.24,90.48 L538.47,91.20 L538.71,91.93 L538.95,92.68 L539.19,93.42 L539.43,94.18 L539.67,94.93 L539.91,95.69 L540.15,96.44 L540.39,97.20 L540.62,97.94 L540.86,98.68 L541.10,99.40 L541.34,100.12 L541.58,100.82 L541.82,101.51 L542.06,102.18 L542.30,102.83 L542.54,103.45 L542.77,104.06 L543.01,104.65 L543.25,105.20 L543.49,105.74 L543.73,106.24 L543.97,106.72 L544.21,107.16 L544.45,107.58 L544.69,107.96 L544.92,108.31 L545.16,108.63 L545.40,108.92 L545.64,109.17 L545.88,109.39 L546.12,109.58 L546.36,109.73 L546.60,109.85 L546.84,109.94 L547.07,109.99 L547.31,110.01 L547.55,110.00 L547.79,109.96 L548.03,109.89 L548.27,109.79 L548.51,109.66 L548.75,109.50 L548.98,109.31 L549.22,109.11 L549.46,108.87 L549.70,108.62 L549.94,108.34 L550.18,108.05 L550.42,107.74 L550.66,107.41 L550.90,107.07 L551.13,106.72 L551.37,106.35 L551.61,105.98 L551.85,105.60 L552.09,105.21 L552.33,104.83 L552.57,104.44 L552.81,104.05 L553.05,103.66 L553.28,103.28 L553.52,102.90 L553.76,102.54 L554.00,102.18 L554.24,101.83 L554.48,101.50 L554.72,101.18 L554.96,100.87 L555.20,100.59 L555.43,100.32 L555.67,100.07 L555.91,99.85 L556.15,99.65 L556.39,99.47 L556.63,99.32 L556.87,99.19 L557.11,99.09 L557.35,99.01 L557.58,98.97 L557.82,98.95 L558.06,98.97 L558.30,99.01 L558.54,99.08 L558.78,99.18 L559.02,99.31 L559.26,99.47 L559.50,99.66 L559.73,99.88 L559.97,100.13 L560.21,100.41 L560.45,100.71 L560.69,101.04 L560.93,101.40 L561.17,101.78 L561.41,102.19 L561.64,102.62 L561.88,103.07 L562.12,103.54 L562.36,104.04 L562.60,104.55 L562.84,105.08 L563.08,105.63 L563.32,106.18 L563.56,106.76 L563.79,107.34 L564.03,107.93 L564.27,108.53 L564.51,109.14 L564.75,109.75 L564.99,110.37 L565.23,110.99 L565.47,111.60 L565.71,112.22 L565.94,112.83 L566.18,113.43 L566.42,114.03 L566.66,114.62 L566.90,115.20 L567.14,115.77 L567.38,116.33 L567.62,116.87 L567.86,117.39 L568.09,117.90 L568.33,118.39 L568.57,118.87 L568.81,119.32 L569.05,119.75 L569.29,120.15 L569.53,120.54 L569.77,120.90 L570.01,121.23 L570.24,121.55 L570.48,121.83 L570.72,122.09 L570.96,122.32 L571.20,122.53 L571.44,122.70 L571.68,122.86 L571.92,122.98 L572.15,123.08 L572.39,123.15 L572.63,123.19 L572.87,123.21 L573.11,123.21 L573.35,123.18 L573.59,123.12 L573.83,123.04 L574.07,122.94 L574.30,122.82 L574.54,122.68 L574.78,122.52 L575.02,122.33 L575.26,122.14 L575.50,121.92 L575.74,121.69 L575.98,121.45 L576.22,121.19 L576.45,120.93 L576.69,120.65 L576.93,120.37 L577.17,120.08 L577.41,119.78 L577.65,119.48 L577.89,119.18 L578.13,118.88 L578.37,118.58 L578.60,118.28 L578.84,117.98 L579.08,117.69 L579.32,117.41 L579.56,117.13 L579.80,116.87 L580.04,116.61 L580.28,116.37 L580.52,116.14 L580.75,115.92 L580.99,115.72 L581.23,115.53 L581.47,115.36 L581.71,115.22 L581.95,115.09 L582.19,114.98 L582.43,114.89 L582.67,114.82 L582.90,114.77 L583.14,114.75 L583.38,114.75 L583.62,114.77 L583.86,114.81 L584.10,114.88 L584.34,114.97 L584.58,115.09 L584.81,115.23 L585.05,115.39 L585.29,115.57 L585.53,115.78 L585.77,116.01 L586.01,116.26 L586.25,116.54 L586.49,116.83 L586.73,117.14 L586.96,117.48 L587.20,117.83 L587.44,118.20 L587.68,118.58 L587.92,118.98 L588.16,119.39 L588.40,119.82 L588.64,120.26 L588.88,120.71 L589.11,121.17 L589.35,121.64 L589.59,122.12 L589.83,122.60 L590.07,123.09 L590.31,123.58 L590.55,124.07 L590.79,124.56 L591.03,125.05 L591.26,125.54 L591.50,126.03 L591.74,126.51 L591.98,126.99 L592.22,127.46 L592.46,127.92 L592.70,128.37 L592.94,128.82 L593.18,129.25 L593.41,129.66 L593.65,130.07 L593.89,130.46 L594.13,130.83 L594.37,131.19 L594.61,131.53 L594.85,131.85 L595.09,132.15 L595.32,132.44 L595.56,132.70 L595.80,132.95 L596.04,133.17 L596.28,133.38 L596.52,133.56 L596.76,133.72 L597.00,133.86 L597.24,133.98 L597.47,134.08 L597.71,134.16 L597.95,134.21 L598.19,134.25 L598.43,134.27 L598.67,134.26 L598.91,134.24 L599.15,134.19 L599.39,134.13 L599.62,134.05 L599.86,133.96 L600.10,133.85 L600.34,133.72 L600.58,133.58 L600.82,133.43 L601.06,133.26 L601.30,133.08 L601.54,132.89 L601.77,132.69 L602.01,132.49 L602.25,132.27 L602.49,132.05 L602.73,131.83 L602.97,131.60 L603.21,131.37 L603.45,131.13 L603.69,130.90 L603.92,130.67 L604.16,130.44 L604.40,130.21 L604.64,129.99 L604.88,129.77 L605.12,129.56 L605.36,129.35 L605.60,129.16 L605.84,128.97 L606.07,128.80 L606.31,128.63 L606.55,128.48 L606.79,128.34 L607.03,128.22 L607.27,128.11 L607.51,128.01 L607.75,127.93 L607.98,127.87 L608.22,127.82 L608.46,127.80 L608.70,127.78 L608.94,127.79 L609.18,127.81 L609.42,127.86 L609.66,127.92 L609.90,128.00 L610.13,128.10 L610.37,128.21 L610.61,128.35 L610.85,128.50 L611.09,128.67 L611.33,128.86 L611.57,129.06 L611.81,129.28 L612.05,129.52 L612.28,129.77 L612.52,130.04 L612.76,130.32 L613.00,130.61 L613.24,130.92 L613.48,131.24 L613.72,131.57 L613.96,131.91 L614.20,132.26 L614.43,132.62 L614.67,132.98 L614.91,133.35 L615.15,133.73 L615.39,134.11 L615.63,134.49 L615.87,134.88 L616.11,135.27 L616.35,135.66 L616.58,136.05 L616.82,136.43 L617.06,136.82 L617.30,137.19 L617.54,137.57 L617.78,137.94 L618.02,138.30 L618.26,138.66 L618.49,139.00 L618.73,139.34 L618.97,139.67 L619.21,139.98 L619.45,140.29 L619.69,140.58 L619.93,140.86 L620.17,141.12 L620.41,141.38 L620.64,141.61 L620.88,141.84 L621.12,142.04 L621.36,142.23 L621.60,142.41 L621.84,142.57 L622.08,142.71 L622.32,142.83 L622.56,142.94 L622.79,143.04 L623.03,143.11 L623.27,143.17 L623.51,143.21 L623.75,143.24 L623.99,143.25 L624.23,143.25 L624.47,143.23 L624.71,143.20 L624.94,143.15 L625.18,143.09 L625.42,143.01 L625.66,142.92 L625.90,142.83 L626.14,142.72 L626.38,142.60 L626.62,142.47 L626.86,142.33 L627.09,142.18 L627.33,142.03 L627.57,141.87 L627.81,141.70 L628.05,141.53 L628.29,141.36 L628.53,141.18 L628.77,141.00 L629.01,140.82 L629.24,140.64 L629.48,140.46 L629.72,140.29 L629.96,140.11 L630.20,139.94 L630.44,139.78 L630.68,139.61 L630.92,139.46 L631.15,139.31 L631.39,139.17 L631.63,139.04 L631.87,138.91 L632.11,138.80 L632.35,138.70 L632.59,138.60 L632.83,138.52 L633.07,138.45 L633.30,138.40 L633.54,138.35 L633.78,138.32 L634.02,138.30 L634.26,138.30 L634.50,138.31 L634.74,138.33 L634.98,138.37 L635.22,138.42 L635.45,138.49 L635.69,138.57 L635.93,138.67 L636.17,138.78 L636.41,138.90 L636.65,139.04 L636.89,139.19 L637.13,139.35 L637.37,139.53 L637.60,139.71 L637.84,139.91 L638.08,140.13 L638.32,140.35 L638.56,140.58 L638.80,140.82 L639.04,141.08 L639.28,141.34 L639.52,141.60 L639.75,141.88 L639.99,142.16 L640.23,142.45 L640.47,142.74 L640.71,143.03 L640.95,143.33 L641.19,143.63 L641.43,143.93 L641.66,144.24 L641.90,144.54 L642.14,144.84 L642.38,145.15 L642.62,145.44 L642.86,145.74 L643.10,146.03 L643.34,146.32 L643.58,146.60 L643.81,146.88 L644.05,147.15 L644.29,147.41 L644.53,147.66 L644.77,147.91 L645.01,148.14 L645.25,148.37 L645.49,148.59 L645.73,148.79 L645.96,148.99 L646.20,149.17 L646.44,149.34 L646.68,149.50 L646.92,149.65 L647.16,149.78 L647.40,149.91 L647.64,150.01 L647.88,150.11 L648.11,150.19 L648.35,150.26 L648.59,150.32 L648.83,150.37 L649.07,150.40 L649.31,150.42 L649.55,150.43 L649.79,150.42 L650.03,150.41 L650.26,150.38 L650.50,150.34 L650.74,150.29 L650.98,150.24 L651.22,150.17 L651.46,150.09 L651.70,150.01 L651.94,149.91 L652.17,149.81 L652.41,149.70 L652.65,149.59 L652.89,149.47 L653.13,149.35 L653.37,149.22 L653.61,149.09 L653.85,148.96 L654.09,148.82 L654.32,148.68 L654.56,148.54 L654.80,148.41 L655.04,148.27 L655.28,148.13 L655.52,148.00 L655.76,147.87 L656.00,147.74 L656.24,147.62 L656.47,147.50 L656.71,147.39 L656.95,147.28 L657.19,147.18 L657.43,147.09 L657.67,147.01 L657.91,146.93 L658.15,146.86 L658.39,146.80 L658.62,146.75 L658.86,146.71 L659.10,146.68 L659.34,146.66 L659.58,146.65 L659.82,146.65 L660.06,146.66 L660.30,146.68 L660.54,146.71 L660.77,146.76 L661.01,146.81 L661.25,146.88 L661.49,146.95 L661.73,147.04 L661.97,147.14 L662.21,147.25 L662.45,147.37 L662.69,147.50 L662.92,147.64 L663.16,147.79 L663.40,147.95 L663.64,148.11 L663.88,148.29 L664.12,148.47 L664.36,148.66 L664.60,148.86 L664.83,149.06 L665.07,149.27 L665.31,149.48 L665.55,149.70 L665.79,149.93 L666.03,150.15 L666.27,150.38 L666.51,150.61 L666.75,150.85 L666.98,151.08 L667.22,151.32 L667.46,151.56 L667.70,151.79 L667.94,152.02 L668.18,152.25 L668.42,152.48 L668.66,152.71 L668.90,152.93 L669.13,153.15 L669.37,153.36 L669.61,153.57 L669.85,153.77 L670.09,153.97 L670.33,154.16 L670.57,154.34 L670.81,154.51 L671.05,154.68 L671.28,154.84 L671.52,154.99 L671.76,155.13 L672.00,155.26 L672.24,155.38 L672.48,155.49 L672.72,155.60 L672.96,155.69 L673.20,155.77 L673.43,155.85 L673.67,155.91 L673.91,155.96 L674.15,156.01 L674.39,156.04 L674.63,156.06 L674.87,156.08 L675.11,156.08 L675.34,156.08 L675.58,156.07 L675.82,156.04 L676.06,156.01 L676.30,155.98 L676.54,155.93 L676.78,155.88 L677.02,155.82 L677.26,155.75 L677.49,155.68 L677.73,155.60 L677.97,155.52 L678.21,155.43 L678.45,155.34 L678.69,155.24 L678.93,155.15 L679.17,155.04 L679.41,154.94 L679.64,154.84 L679.88,154.73 L680.12,154.63 L680.36,154.52 L680.60,154.42" stroke="#f00" stroke-width="2" fill="none"/>
<circle cx="411.7" cy="134.3" r="2.6" fill="#f00"/>
<circle cx="418.8" cy="119.5" r="2.6" fill="#f00"/>
<circle cx="425.6" cy="82.8" r="2.6" fill="#f00"/>
<circle cx="433.2" cy="56.1" r="2.6" fill="#f00"/>
<circle cx="440.5" cy="65.6" r="2.6" fill="#f00"/>
<circle cx="447.6" cy="60.3" r="2.6" fill="#f00"/>
<circle cx="454.8" cy="27.1" r="2.6" fill="#f00"/>
<circle cx="461.8" cy="39.8" r="2.6" fill="#f00"/>
<circle cx="469" cy="63" r="2.6" fill="#f00"/>
<circle cx="476" cy="54" r="2.6" fill="#f00"/>
<circle cx="482.9" cy="41.1" r="2.6" fill="#f00"/>
<circle cx="490.6" cy="64.7" r="2.6" fill="#f00"/>
<circle cx="497.2" cy="78.3" r="2.6" fill="#f00"/>
<circle cx="504.9" cy="61.3" r="2.6" fill="#f00"/>
<circle cx="512.1" cy="65.8" r="2.6" fill="#f00"/>
<circle cx="519.2" cy="88.6" r="2.6" fill="#f00"/>
<circle cx="526.4" cy="90.9" r="2.6" fill="#f00"/>
<circle cx="533.4" cy="83.3" r="2.6" fill="#f00"/>
<circle cx="540.3" cy="88.3" r="2.6" fill="#f00"/>
<circle cx="547.8" cy="105.8" r="2.6" fill="#f00"/>
<circle cx="555" cy="99.9" r="2.6" fill="#f00"/>
<circle cx="562.3" cy="105" r="2.6" fill="#f00"/>
<circle cx="569.4" cy="119.6" r="2.6" fill="#f00"/>
<circle cx="576.4" cy="117.7" r="2.6" fill="#f00"/>
<circle cx="583.7" cy="114.8" r="2.6" fill="#f00"/>
<circle cx="590.9" cy="124.1" r="2.6" fill="#f00"/>
<circle cx="598.4" cy="136" r="2.6" fill="#f00"/>
<circle cx="605" cy="128.6" r="2.6" fill="#f00"/>
<circle cx="612.2" cy="133.4" r="2.6" fill="#f00"/>
<circle cx="619.5" cy="145.9" r="2.6" fill="#f00"/>
<circle cx="626.7" cy="140.1" r="2.6" fill="#f00"/>
<circle cx="633.8" cy="141" r="2.6" fill="#f00"/>
<circle cx="641" cy="139.6" r="2.6" fill="#f00"/>
<circle cx="648" cy="149" r="2.6" fill="#f00"/>
<circle cx="655.4" cy="145.6" r="2.6" fill="#f00"/>
<circle cx="662.3" cy="152.2" r="2.6" fill="#f00"/>
<circle cx="669.5" cy="153.5" r="2.6" fill="#f00"/>
<circle cx="676.8" cy="155" r="2.6" fill="#f00"/>
<circle cx="411.7" cy="143.3" r="2.5" fill="none" stroke="#1010ff" stroke-width="0.95"/>
<circle cx="418.8" cy="102.4" r="2.5" fill="none" stroke="#1010ff" stroke-width="0.95"/>
<circle cx="425.8" cy="82.2" r="2.5" fill="none" stroke="#1010ff" stroke-width="0.95"/>
<circle cx="433.2" cy="71" r="2.5" fill="none" stroke="#1010ff" stroke-width="0.95"/>
<circle cx="440.5" cy="52.6" r="2.5" fill="none" stroke="#1010ff" stroke-width="0.95"/>
<circle cx="447.6" cy="36.2" r="2.5" fill="none" stroke="#1010ff" stroke-width="0.95"/>
<circle cx="454.8" cy="54.7" r="2.5" fill="none" stroke="#1010ff" stroke-width="0.95"/>
<circle cx="461.4" cy="44.2" r="2.5" fill="none" stroke="#1010ff" stroke-width="0.95"/>
<circle cx="469" cy="38.3" r="2.5" fill="none" stroke="#1010ff" stroke-width="0.95"/>
<circle cx="476" cy="49.1" r="2.5" fill="none" stroke="#1010ff" stroke-width="0.95"/>
<circle cx="482.9" cy="59.4" r="2.5" fill="none" stroke="#1010ff" stroke-width="0.95"/>
<circle cx="490.6" cy="43.8" r="2.5" fill="none" stroke="#1010ff" stroke-width="0.95"/>
<circle cx="497.2" cy="53.6" r="2.5" fill="none" stroke="#1010ff" stroke-width="0.95"/>
<circle cx="504.9" cy="76.9" r="2.5" fill="none" stroke="#1010ff" stroke-width="0.95"/>
<circle cx="512.1" cy="76" r="2.5" fill="none" stroke="#1010ff" stroke-width="0.95"/>
<circle cx="519.2" cy="61.7" r="2.5" fill="none" stroke="#1010ff" stroke-width="0.95"/>
<circle cx="526.4" cy="82.3" r="2.5" fill="none" stroke="#1010ff" stroke-width="0.95"/>
<circle cx="533.4" cy="99.8" r="2.5" fill="none" stroke="#1010ff" stroke-width="0.95"/>
<circle cx="540.3" cy="89.1" r="2.5" fill="none" stroke="#1010ff" stroke-width="0.95"/>
<circle cx="547.8" cy="87.8" r="2.5" fill="none" stroke="#1010ff" stroke-width="0.95"/>
<circle cx="555" cy="105.8" r="2.5" fill="none" stroke="#1010ff" stroke-width="0.95"/>
<circle cx="562.3" cy="117.7" r="2.5" fill="none" stroke="#1010ff" stroke-width="0.95"/>
<circle cx="569.4" cy="103.4" r="2.5" fill="none" stroke="#1010ff" stroke-width="0.95"/>
<circle cx="576.4" cy="114.5" r="2.5" fill="none" stroke="#1010ff" stroke-width="0.95"/>
<circle cx="583.7" cy="129.6" r="2.5" fill="none" stroke="#1010ff" stroke-width="0.95"/>
<circle cx="590.9" cy="124" r="2.5" fill="none" stroke="#1010ff" stroke-width="0.95"/>
<circle cx="598.4" cy="118.5" r="2.5" fill="none" stroke="#1010ff" stroke-width="0.95"/>
<circle cx="605" cy="128.4" r="2.5" fill="none" stroke="#1010ff" stroke-width="0.95"/>
<circle cx="612.2" cy="129.2" r="2.5" fill="none" stroke="#1010ff" stroke-width="0.95"/>
<circle cx="619.5" cy="135.9" r="2.5" fill="none" stroke="#1010ff" stroke-width="0.95"/>
<circle cx="626.7" cy="140.3" r="2.5" fill="none" stroke="#1010ff" stroke-width="0.95"/>
<circle cx="633.8" cy="151.5" r="2.5" fill="none" stroke="#1010ff" stroke-width="0.95"/>
<circle cx="641" cy="140.6" r="2.5" fill="none" stroke="#1010ff" stroke-width="0.95"/>
<circle cx="648" cy="143.1" r="2.5" fill="none" stroke="#1010ff" stroke-width="0.95"/>
<circle cx="655.4" cy="155.4" r="2.5" fill="none" stroke="#1010ff" stroke-width="0.95"/>
<circle cx="662.3" cy="150.8" r="2.5" fill="none" stroke="#1010ff" stroke-width="0.95"/>
<circle cx="669.5" cy="153.5" r="2.5" fill="none" stroke="#1010ff" stroke-width="0.95"/>
<circle cx="676.8" cy="154.2" r="2.5" fill="none" stroke="#1010ff" stroke-width="0.95"/>
<circle cx="570.3" cy="23.4" r="2.2" fill="#f00"/>
<circle cx="570.3" cy="42" r="2.3" fill="none" stroke="#00f" stroke-width="1"/>
<path d="M559,60.7H581" stroke="#f00" stroke-width="2"/>
<path d="M559,79.1H581" stroke="#00f" stroke-width="1.5" stroke-dasharray="1.2 1.2"/>
<g font-family="Liberation Serif, serif" font-size="12.4" fill="#000" letter-spacing="-0.28"><text x="586.4" y="25.9">Tagged mixed</text><text x="586.4" y="45">Tagged unmixed</text><text x="586.4" y="64.2">Fit mixed</text><text x="586.4" y="83.3">Fit unmixed</text></g>
<text font-family="Liberation Serif, serif" font-size="23" x="461" y="131.4">LHCb</text>
<g font-family="Liberation Serif, serif" font-size="14.5" fill="#000" text-anchor="end" letter-spacing="-0.5"><text x="392.3" y="61.5">400</text><text x="392.3" y="120.8">200</text><text x="392.3" y="180.2">0</text></g>
<g font-family="Liberation Serif, serif" font-size="14.5" fill="#000" text-anchor="middle"><text x="394.2" y="191">0</text><text x="465.8" y="191">1</text><text x="537.4" y="191">2</text><text x="609.0" y="191">3</text><text x="680.6" y="191">4</text></g>
<text font-family="Liberation Serif, serif" font-size="16" x="681" y="207" text-anchor="end">decay time [ps]</text>
<text font-family="Liberation Serif, serif" font-size="16.6" transform="translate(359,134.7) rotate(-90)">candidates / (0.1 ps)</text>
</g>
<g id="c3">
<path d="M256.25,469.2V466.0M268.90,469.2V466.0M281.55,469.2V466.0M294.20,469.2V462.8M306.85,469.2V466.0M319.50,469.2V466.0M332.15,469.2V466.0M344.80,469.2V462.8M357.45,469.2V466.0M370.10,469.2V466.0M382.75,469.2V466.0M395.40,469.2V462.8M408.05,469.2V466.0M420.70,469.2V466.0M433.35,469.2V466.0M471.7,469.2V466.0M484.4,469.2V466.0M256.25,238.1V241.29999999999998M268.90,238.1V241.29999999999998M281.55,238.1V241.29999999999998M294.20,238.1V244.5M306.85,238.1V241.29999999999998M319.50,238.1V241.29999999999998M332.15,238.1V241.29999999999998M344.80,238.1V244.5M357.45,238.1V241.29999999999998M370.10,238.1V241.29999999999998M382.75,238.1V241.29999999999998M395.40,238.1V244.5M408.05,238.1V241.29999999999998M420.70,238.1V241.29999999999998M433.35,238.1V241.29999999999998M446.00,238.1V244.5M458.65,238.1V241.29999999999998M471.30,238.1V241.29999999999998M483.95,238.1V241.29999999999998M243.6,464.46H247.29999999999998M496.4,464.46H492.79999999999995M243.6,459.20H250.79999999999998M496.4,459.20H490.0M243.6,453.94H247.29999999999998M496.4,453.94H492.79999999999995M243.6,448.68H247.29999999999998M496.4,448.68H492.79999999999995M243.6,443.42H247.29999999999998M496.4,443.42H492.79999999999995M243.6,438.16H247.29999999999998M496.4,438.16H492.79999999999995M243.6,432.90H250.79999999999998M496.4,432.90H490.0M243.6,427.64H247.29999999999998M496.4,427.64H492.79999999999995M243.6,422.38H247.29999999999998M496.4,422.38H492.79999999999995M243.6,417.12H247.29999999999998M496.4,417.12H492.79999999999995M243.6,411.86H247.29999999999998M496.4,411.86H492.79999999999995M243.6,406.60H250.79999999999998M496.4,406.60H490.0M243.6,401.34H247.29999999999998M496.4,401.34H492.79999999999995M243.6,396.08H247.29999999999998M496.4,396.08H492.79999999999995M243.6,390.82H247.29999999999998M496.4,390.82H492.79999999999995M243.6,385.56H247.29999999999998M496.4,385.56H492.79999999999995M243.6,380.30H250.79999999999998M496.4,380.30H490.0M243.6,375.04H247.29999999999998M496.4,375.04H492.79999999999995M243.6,369.78H247.29999999999998M496.4,369.78H492.79999999999995M243.6,364.52H247.29999999999998M496.4,364.52H492.79999999999995M243.6,359.26H247.29999999999998M496.4,359.26H492.79999999999995M243.6,354.00H250.79999999999998M496.4,354.00H490.0M243.6,348.74H247.29999999999998M496.4,348.74H492.79999999999995M243.6,343.48H247.29999999999998M496.4,343.48H492.79999999999995M243.6,338.22H247.29999999999998M496.4,338.22H492.79999999999995M243.6,332.96H247.29999999999998M496.4,332.96H492.79999999999995M243.6,327.70H250.79999999999998M496.4,327.70H490.0M243.6,322.44H247.29999999999998M496.4,322.44H492.79999999999995M243.6,317.18H247.29999999999998M496.4,317.18H492.79999999999995M243.6,311.92H247.29999999999998M496.4,311.92H492.79999999999995M243.6,306.66H247.29999999999998M496.4,306.66H492.79999999999995M243.6,301.40H250.79999999999998M496.4,301.40H490.0M243.6,296.14H247.29999999999998M496.4,296.14H492.79999999999995M243.6,290.88H247.29999999999998M496.4,290.88H492.79999999999995M243.6,285.62H247.29999999999998M496.4,285.62H492.79999999999995M243.6,280.36H247.29999999999998M496.4,280.36H492.79999999999995M243.6,275.10H250.79999999999998M496.4,275.10H490.0M243.6,269.84H247.29999999999998M496.4,269.84H492.79999999999995M243.6,264.58H247.29999999999998M496.4,264.58H492.79999999999995M243.6,259.32H247.29999999999998M496.4,259.32H492.79999999999995M243.6,254.06H247.29999999999998M496.4,254.06H492.79999999999995M243.6,248.80H250.79999999999998M496.4,248.80H490.0M243.6,243.54H247.29999999999998M496.4,243.54H492.79999999999995" stroke="#000" stroke-width="1" fill="none"/>
<path d="M243.6,469.2V238.1H496.4V469.2H456.2M435.5,469.2H243.6" stroke="#000" stroke-width="1.6" fill="none"/>
<path d="M435.7,474.1L440.4,465.1M451.6,474.1L456.1,465.1" stroke="#000" stroke-width="1.2" fill="none"/>
<path d="M243.50,430.07 L246.93,427.00 L250.35,423.97 L253.78,421.00 L257.20,418.07 L260.63,415.18 L264.05,412.34 L267.48,409.55 L270.90,406.80 L274.33,404.09 L277.75,401.42 L281.18,398.79 L284.61,396.20 L288.03,393.65 L291.46,391.14 L294.88,388.66 L298.31,386.22 L301.73,383.81 L305.16,381.44 L308.58,379.10 L312.01,376.79 L315.43,374.51 L318.86,372.26 L322.28,370.04 L325.71,367.85 L329.14,365.69 L332.56,363.55 L335.99,361.43 L339.41,359.35 L342.84,357.28 L346.26,355.24 L349.69,353.21 L353.11,351.21 L356.54,349.23 L359.96,347.26 L363.39,345.32 L366.82,343.38 L370.24,341.47 L373.67,339.57 L377.09,337.68 L380.52,335.81 L383.94,333.95 L387.37,332.09 L390.79,330.25 L394.22,328.42 L397.64,326.60 L401.07,324.78 L404.49,322.97 L407.92,321.16 L411.35,319.36 L414.77,317.56 L418.20,315.76 L421.62,313.97 L425.05,312.17 L428.47,310.38 L431.90,308.58 L435.32,306.78 L438.75,304.98 L442.17,303.17 L445.60,301.36" stroke="#3a3aff" stroke-width="1.25" fill="none"/>
<path d="M243.6,393.1H445.6" stroke="#3a3aff" stroke-width="1.25" stroke-dasharray="1.3 2.1" fill="none"/>
<path d="M243.50000000000003,430.4H263.8M261.6,422.29999999999995V438.5M260.0,422.29999999999995h3.2M260.0,438.5h3.2M263.9,407.4H269.1M266.5,401.59999999999997V413.2M264.9,401.59999999999997h3.2M264.9,413.2h3.2M269.1,403.2H274.1M271.6,397.2V409.2M270.0,397.2h3.2M270.0,409.2h3.2M273.0,407.4H278.0M275.5,400.7V414.09999999999997M273.9,400.7h3.2M273.9,414.09999999999997h3.2M276.7,403.5H281.7M279.2,396.3V410.7M277.59999999999997,396.3h3.2M277.59999999999997,410.7h3.2M281,389.4H288.5M284,383.29999999999995V395.5M282.4,383.29999999999995h3.2M282.4,395.5h3.2M286.9,397.9H293.59999999999997M289.9,391.5V404.29999999999995M288.29999999999995,391.5h3.2M288.29999999999995,404.29999999999995h3.2M293.0,388.4H300.5M296.5,381.09999999999997V395.7M294.9,381.09999999999997h3.2M294.9,395.7h3.2M299.9,381.5H306.59999999999997M302.9,373.5V389.5M301.29999999999995,373.5h3.2M301.29999999999995,389.5h3.2M306.8,377.3H319.8M312.8,370.7V383.90000000000003M311.2,370.7h3.2M311.2,383.90000000000003h3.2M319.4,372.4H345.4M330.4,365.4V379.4M328.79999999999995,365.4h3.2M328.79999999999995,379.4h3.2M344.29999999999995,339H370.7M355.4,327.8V350.2M353.79999999999995,327.8h3.2M353.79999999999995,350.2h3.2M370.1,328.3H496.40000000000003M395.1,313.3V343.3M393.5,313.3h3.2M393.5,343.3h3.2" stroke="#000" stroke-width="1" fill="none"/>
<circle cx="261.6" cy="430.4" r="2" fill="#000"/>
<circle cx="266.5" cy="407.4" r="2" fill="#000"/>
<circle cx="271.6" cy="403.2" r="2" fill="#000"/>
<circle cx="275.5" cy="407.4" r="2" fill="#000"/>
<circle cx="279.2" cy="403.5" r="2" fill="#000"/>
<circle cx="284" cy="389.4" r="2" fill="#000"/>
<circle cx="289.9" cy="397.9" r="2" fill="#000"/>
<circle cx="296.5" cy="388.4" r="2" fill="#000"/>
<circle cx="302.9" cy="381.5" r="2" fill="#000"/>
<circle cx="312.8" cy="377.3" r="2" fill="#000"/>
<circle cx="330.4" cy="372.4" r="2" fill="#000"/>
<circle cx="355.4" cy="339" r="2" fill="#000"/>
<circle cx="395.1" cy="328.3" r="2" fill="#000"/>
<circle cx="266.6" cy="258.1" r="2" fill="#000"/>
<path d="M259.3,280.4H274.2" stroke="#3a3aff" stroke-width="1.25"/>
<path d="M259.3,302.3H274.2" stroke="#3a3aff" stroke-width="1.25" stroke-dasharray="1.3 2.1"/>
<g font-family="Liberation Serif, serif" font-size="14.7" fill="#000"><text x="280.8" y="262">Data</text><text x="280.8" y="282.5">Mixing fit</text><text x="280.8" y="304.3">No-mixing fit</text></g>
<text font-family="Liberation Serif, serif" font-size="16.3" x="435" y="432.5">LHCb</text>
<g font-family="Liberation Serif, serif" font-size="14" fill="#000" text-anchor="end"><text x="238.2" y="464.8">3</text><text x="236.4" y="438.5">3.5</text><text x="238.2" y="412.2">4</text><text x="236.4" y="385.9">4.5</text><text x="238.2" y="359.6">5</text><text x="236.4" y="333.3">5.5</text><text x="238.2" y="307.0">6</text><text x="236.4" y="280.7">6.5</text><text x="238.2" y="254.4">7</text></g>
<g font-family="Liberation Serif, serif" font-size="14" fill="#000" text-anchor="middle"><text x="243.5" y="485">0</text><text x="294.3" y="485">2</text><text x="345" y="485">4</text><text x="395.3" y="485">6</text><text x="496" y="485">20</text></g>
<path d="M245.3,228.3L252.5,234.6M252.5,228.3L245.3,234.6" stroke="#222" stroke-width="0.9" fill="none"/>
<text font-family="Liberation Serif, serif" font-size="14.6" x="253.6" y="235.6">10</text><text font-family="Liberation Serif, serif" font-size="10" x="268.6" y="228.8">-3</text>
<text font-family="Liberation Serif, serif" font-size="16" x="358.6" y="501"><tspan font-style="italic">t</tspan>/</text><text font-family="Liberation Serif, serif" font-size="17" x="368.8" y="501" textLength="9.2" lengthAdjust="spacingAndGlyphs">τ</text>
<text font-family="Liberation Serif, serif" font-size="16" font-style="italic" transform="translate(208.5,357) rotate(-90)">R</text>
</g>
</svg></body></html>
